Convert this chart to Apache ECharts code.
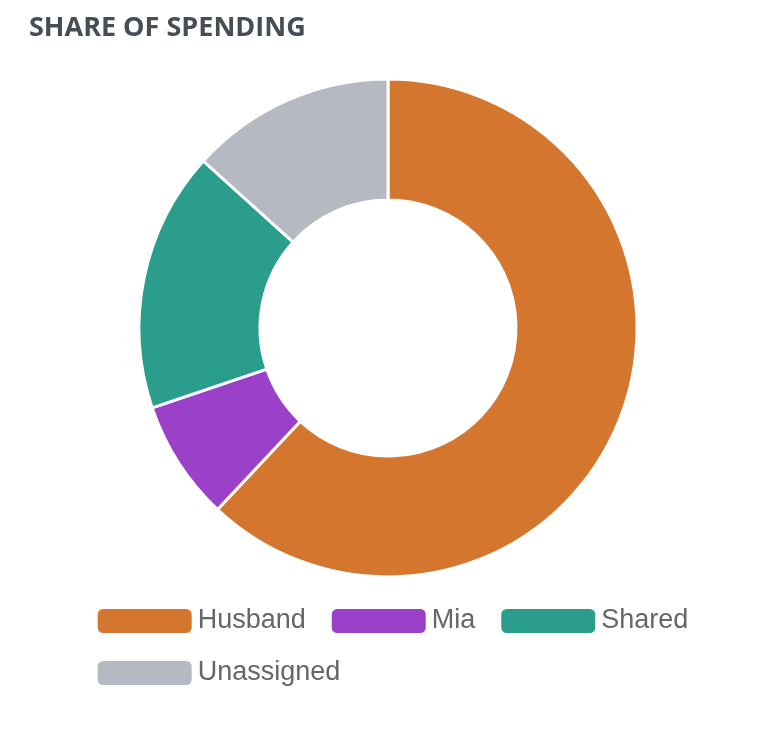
<!DOCTYPE html>
<html><head><meta charset="utf-8">
<script src="https://cdn.jsdelivr.net/npm/echarts@6/dist/echarts.min.js"></script>
<style>body{margin:0}#c{width:784px;height:736px}</style></head>
<body><div id="c"></div>
<script>
const categories = ["Husband","Mia","Shared","Unassigned"];
const values = [62.0, 7.8, 16.9, 13.3];
const colors = ["#d4762e","#9b40c9","#2a9d8c","#b6b9c1"];
const chart = echarts.init(document.getElementById('c'));
chart.setOption({
  title:{text:"SHARE OF SPENDING",left:24,top:10,textStyle:{fontFamily:"Open Sans",fontSize:27,fontWeight:"bold",color:"#474d55"}},
  color:colors,
  legend:{bottom:44,left:"center",width:700,itemWidth:96,itemHeight:26,itemGap:24,
    textStyle:{fontFamily:"Liberation Sans",fontSize:27,color:"#666"},data:categories},
  series:[{type:"pie",radius:[128,249],center:[388,328],startAngle:90,clockwise:true,
    label:{show:false},labelLine:{show:false},
    itemStyle:{borderColor:"#fff",borderWidth:3},
    data:categories.map((n,i)=>({name:n,value:values[i]}))}]
});
</script></body></html>
